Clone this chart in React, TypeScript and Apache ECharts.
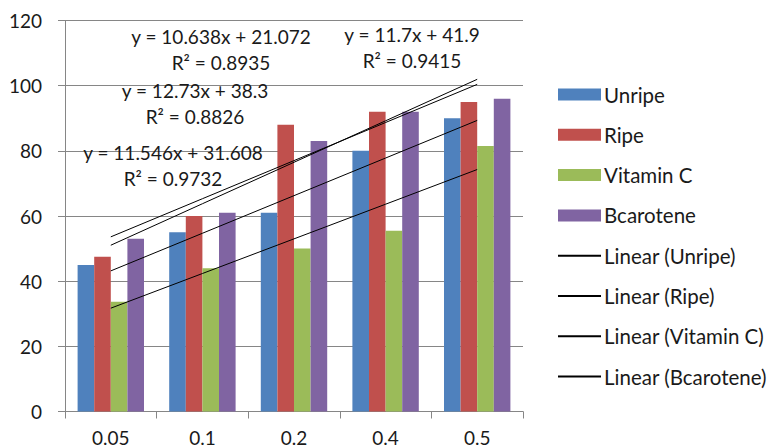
import React, { useEffect, useRef } from "react";
import * as echarts from "echarts";

// Concentration categories on the x axis
const categories = ["0.05", "0.1", "0.2", "0.4", "0.5"];

// Measured values per group
const unripe = [45, 55, 61, 80, 90];
const ripe = [47.5, 60, 88, 92, 95];
const vitaminC = [33.7, 44, 50, 55.5, 81.5];
const bcarotene = [53, 61, 83, 92, 96];

const seriesNames = ["Unripe", "Ripe", "Vitamin C", "Bcarotene"];
const seriesColors = ["#4F81BD", "#C0504D", "#9BBB59", "#8064A2"];

// Linear trend fits (slope, intercept, R²) per group, x = category index 1..5
const trendSlopes = [11.546, 12.73, 10.638, 11.7];
const trendIntercepts = [31.608, 38.3, 21.072, 41.9];
const trendR2 = ["0.9732", "0.8826", "0.8935", "0.9415"];

// Where each fit's equation label sits
const eqLabelPos = [
  [173, 152],
  [195, 90],
  [221, 36],
  [412, 34],
];

const FONT = "Lato, 'Open Sans', sans-serif";
const TEXT = "#1a1a1a";

export default function App() {
  const ref = useRef<HTMLDivElement>(null);

  useEffect(() => {
    if (!ref.current) return;
    document.body.style.margin = "0";
    const chart = echarts.init(ref.current, undefined, { renderer: "svg" });

    const values = [unripe, ripe, vitaminC, bcarotene];

    const barSeries = values.map((data, i) => ({
      type: "bar",
      name: seriesNames[i],
      data,
      itemStyle: { color: seriesColors[i] },
      barWidth: 16.6,
      barGap: "0%",
      emphasis: { disabled: true },
    }));

    const trendSeries = values.map((_, i) => ({
      type: "line",
      name: `Linear (${seriesNames[i]})`,
      data: categories.map((_c, k) => trendSlopes[i] * (k + 1) + trendIntercepts[i]),
      symbol: "none",
      lineStyle: { color: "#000", width: 1 },
      itemStyle: { color: "#000" },
      z: 5,
      emphasis: { disabled: true },
    }));

    const eqTexts: any[] = [];
    eqLabelPos.forEach(([x, y], i) => {
      const sign = trendIntercepts[i] >= 0 ? "+" : "-";
      eqTexts.push({
        type: "text",
        x,
        y,
        z: 10,
        style: {
          text: `y = ${trendSlopes[i]}x ${sign} ${Math.abs(trendIntercepts[i])}`,
          fontFamily: FONT,
          fontSize: 19,
          fill: TEXT,
          textAlign: "center",
          textVerticalAlign: "middle",
        },
      });
      eqTexts.push({
        type: "text",
        x,
        y: y + 26,
        z: 10,
        style: {
          text: `R² = ${trendR2[i]}`,
          fontFamily: FONT,
          fontSize: 19,
          fill: TEXT,
          textAlign: "center",
          textVerticalAlign: "middle",
        },
      });
    });

    chart.setOption({
      animation: false,
      textStyle: { fontFamily: FONT },
      grid: { left: 65, right: 246, top: 20.5, bottom: 35.5, containLabel: false },
      legend: {
        orient: "vertical",
        left: 552,
        top: 79,
        itemWidth: 43,
        itemHeight: 12,
        itemGap: 19.3,
        selectedMode: false,
        textStyle: { fontFamily: FONT, fontSize: 20.5, color: TEXT, lineHeight: 20, padding: [0, 0, 0, -2] },
        data: [
          ...seriesNames.map((n) => ({ name: n, icon: "rect" })),
          ...seriesNames.map((n) => ({ name: `Linear (${n})`, itemStyle: { opacity: 0 } })),
        ],
      },
      xAxis: {
        type: "category",
        data: categories,
        boundaryGap: true,
        axisLine: { lineStyle: { color: "#868686", width: 1 } },
        axisTick: { show: true, length: 7, lineStyle: { color: "#868686" } },
        axisLabel: { color: TEXT, fontSize: 19, margin: 16, fontFamily: FONT },
      },
      yAxis: {
        type: "value",
        min: 0,
        max: 120,
        interval: 20,
        axisLine: { show: true, lineStyle: { color: "#868686", width: 1 } },
        axisTick: { show: true, length: 7, lineStyle: { color: "#868686" } },
        axisLabel: { color: TEXT, fontSize: 19, margin: 23, fontFamily: FONT },
        splitLine: { show: true, lineStyle: { color: "#868686", width: 1 } },
      },
      series: [...barSeries, ...trendSeries],
      graphic: eqTexts,
    });

    return () => chart.dispose();
  }, []);

  return <div ref={ref} style={{ width: 769, height: 447 }} />;
}
